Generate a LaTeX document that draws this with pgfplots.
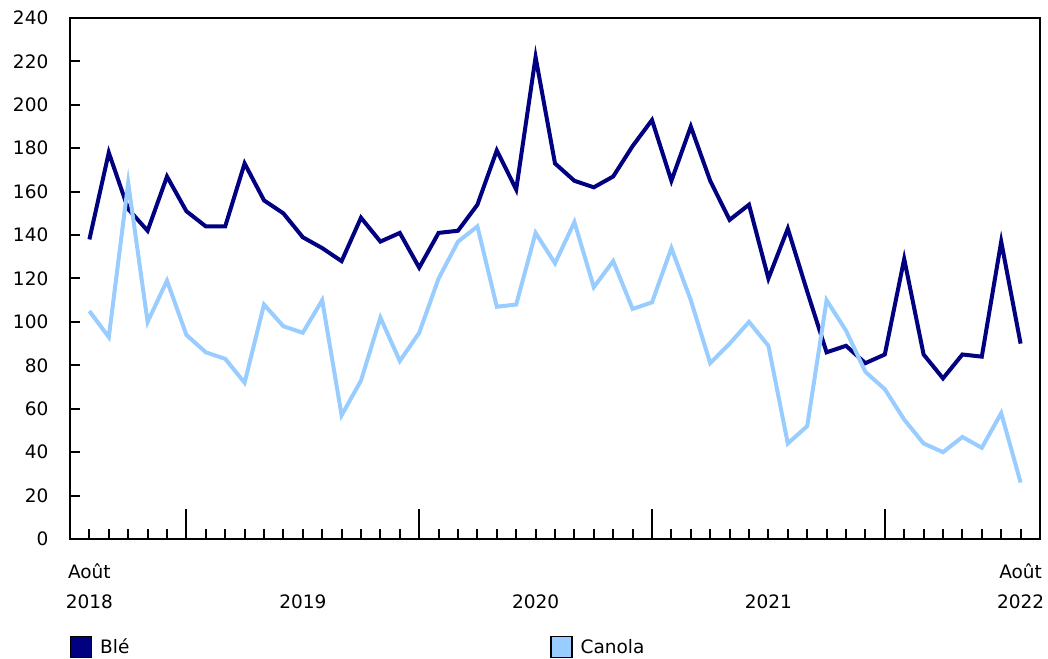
\documentclass[border=0pt]{standalone}
\usepackage{fontspec}
\setmainfont{DejaVu Sans}
\usepackage{pgfplots}
\pgfplotsset{compat=1.18}
\definecolor{ble}{HTML}{000080}
\definecolor{canola}{HTML}{99CCFF}

\begin{document}
\fontsize{18.5}{30}\selectfont
\begin{tikzpicture}
\begin{axis}[
  at={(0pt,0pt)}, anchor=south west,
  scale only axis, width=970pt, height=521pt,
  xmin=-1, xmax=49, ymin=0, ymax=240,
  axis line style={line width=2pt, black},
  every tick/.style={black, line width=2pt},
  tick align=inside,
  xtick pos=bottom, ytick pos=left,
  ytick={0,20,...,240},
  /pgf/number format/assume math mode=true,
  yticklabel style={anchor=east, inner sep=0pt, xshift=-21.5pt, font=\fontsize{18.5}{30}\selectfont},
  xtick={0,11,23,35,48},
  xticklabels={{Août\\2018},{\vphantom{Août}\\2019},{\vphantom{Août}\\2020},{\vphantom{Août}\\2021},{Août\\2022}},
  major tick length=10pt,
  minor xtick={0,...,48},
  minor tick length=10pt,
  extra x ticks={5,17,29,41},
  extra x tick labels={},
  extra tick style={major tick length=30pt},
  xticklabel style={align=center, anchor=north, inner sep=0pt, yshift=-25pt, font=\fontsize{18.5}{30}\selectfont},
  legend columns=2,
  legend cell align=left,
  legend style={draw=none, fill=none, at={(axis description cs:0,0)}, anchor=north west,
    yshift=-97pt, inner sep=0pt, outer sep=0pt,
    /tikz/every odd column/.append style={column sep=8pt},
    /tikz/every even column/.append style={column sep=421pt},
    nodes={inner sep=0pt, anchor=base west, font=\fontsize{18.5}{30}\selectfont}},
]
\addplot[color=ble, line width=4pt, line join=miter,
  legend image code/.code={\draw[line width=1.2pt, draw=black, fill=ble] (0pt,-4pt) rectangle (21pt,17pt);}]
  coordinates {
(0,138) (1,178) (2,152) (3,142) (4,167) (5,151) (6,144) (7,144) (8,173) (9,156)
(10,150) (11,139) (12,134) (13,128) (14,148) (15,137) (16,141) (17,125) (18,141) (19,142)
(20,154) (21,179) (22,161) (23,222) (24,173) (25,165) (26,162) (27,167) (28,181) (29,193)
(30,165) (31,190) (32,165) (33,147) (34,154) (35,120) (36,143) (37,114) (38,86) (39,89)
(40,81) (41,85) (42,129) (43,85) (44,74) (45,85) (46,84) (47,137) (48,90)
};
\addlegendentry{Blé}
\addplot[color=canola, line width=4pt, line join=miter,
  legend image code/.code={\draw[line width=1.2pt, draw=black, fill=canola] (0pt,-4pt) rectangle (21pt,17pt);}]
  coordinates {
(0,105) (1,93) (2,164) (3,100) (4,119) (5,94) (6,86) (7,83) (8,72) (9,108)
(10,98) (11,95) (12,110) (13,57) (14,73) (15,102) (16,82) (17,95) (18,120) (19,137)
(20,144) (21,107) (22,108) (23,141) (24,127) (25,146) (26,116) (27,128) (28,106) (29,109)
(30,134) (31,110) (32,81) (33,90) (34,100) (35,89) (36,44) (37,52) (38,110) (39,96)
(40,77) (41,69) (42,55) (43,44) (44,40) (45,47) (46,42) (47,58) (48,26)
};
\addlegendentry{Canola}
\end{axis}
\pgfresetboundingbox
\path[use as bounding box] (-70pt,-119pt) rectangle (978pt,539pt);
\end{tikzpicture}
\end{document}
